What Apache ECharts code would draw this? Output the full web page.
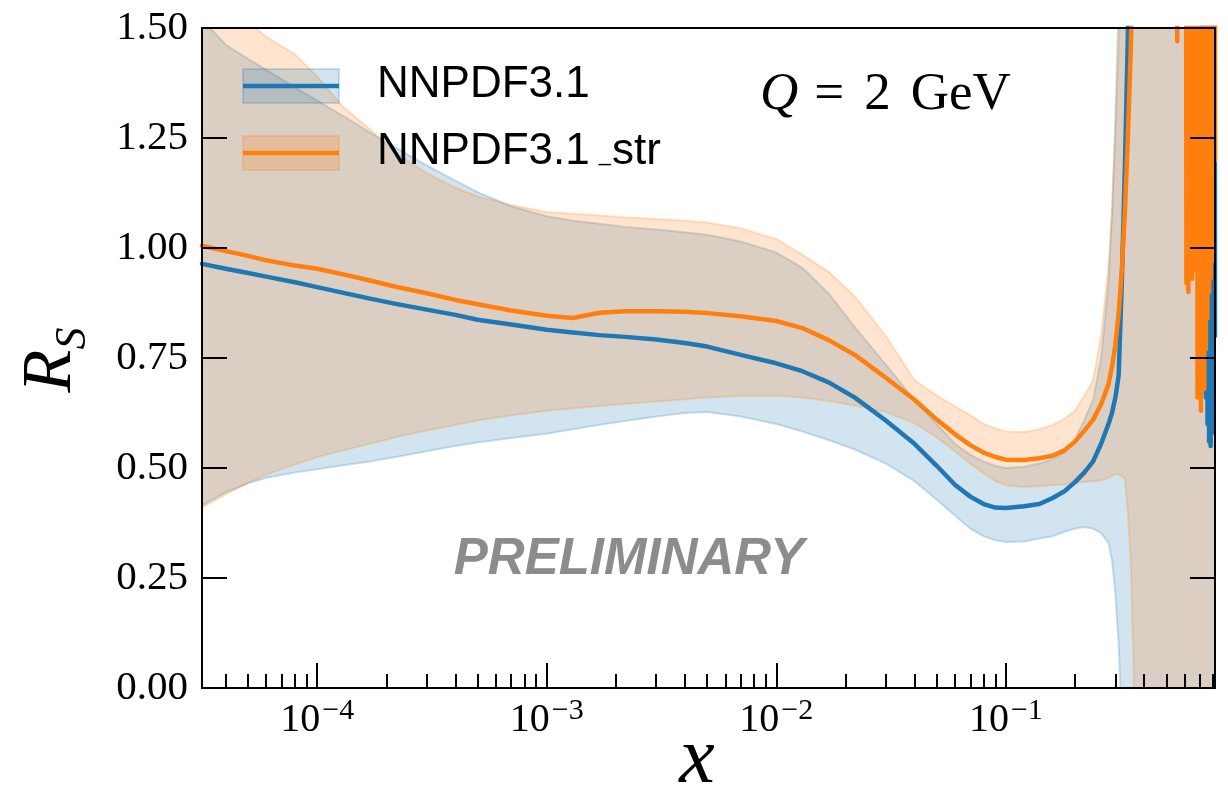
<!DOCTYPE html>
<html>
<head>
<meta charset="utf-8">
<title>R_S at Q = 2 GeV</title>
<script src="https://cdn.jsdelivr.net/npm/echarts@6.0.0/dist/echarts.min.js"></script>
<style>
  html, body { margin: 0; padding: 0; background: #ffffff; }
  #chart { width: 1228px; height: 789px; }
</style>
</head>
<body>
<div id="chart"></div>
<script>
// ---- data -------------------------------------------------------------
// sampling points in x shared by central values and bands
const xMain = [3.15e-5, 4e-5, 5e-5, 6e-5, 8e-5, 1e-4, 1.3e-4, 1.7e-4, 2.2e-4, 3e-4,
               4e-4, 5e-4, 7e-4, 1e-3, 1.3e-3, 1.7e-3, 2.2e-3, 3e-3, 4e-3, 5e-3,
               7e-3, 1e-2, 1.3e-2, 1.7e-2, 2.2e-2, 3e-2, 4e-2, 5e-2, 6e-2, 7e-2,
               8e-2, 9e-2, 0.1, 0.12, 0.14, 0.16, 0.18, 0.2, 0.22, 0.24,
               0.26, 0.28, 0.29, 0.30, 0.31, 0.32, 0.33, 0.34, 0.35, 0.36];

// central values
const blueMid = [0.964, 0.953, 0.943, 0.935, 0.922, 0.911, 0.898, 0.885, 0.873, 0.860,
                 0.848, 0.837, 0.826, 0.814, 0.808, 0.802, 0.798, 0.792, 0.784, 0.776,
                 0.757, 0.738, 0.720, 0.694, 0.660, 0.608, 0.555, 0.505, 0.462, 0.435,
                 0.418, 0.410, 0.409, 0.413, 0.418, 0.432, 0.447, 0.468, 0.490, 0.515,
                 0.555, 0.600, 0.625, 0.660, 0.710, 0.920, 1.180, 1.480, 1.900, 2.500];
const orangeMid = [1.005, 0.993, 0.982, 0.972, 0.960, 0.953, 0.940, 0.926, 0.912, 0.897,
                   0.882, 0.872, 0.858, 0.846, 0.841, 0.853, 0.856, 0.856, 0.855, 0.852,
                   0.845, 0.834, 0.818, 0.790, 0.757, 0.705, 0.655, 0.610, 0.577, 0.552,
                   0.535, 0.525, 0.519, 0.518, 0.522, 0.528, 0.540, 0.560, 0.585, 0.610,
                   0.645, 0.690, 0.730, 0.780, 0.850, 0.950, 1.080, 1.250, 1.450, 1.700];

// large-x continuation of the central values (unstable region)
const xTail = [0.38, 0.42, 0.5, 0.545, 0.552, 0.558, 0.565, 0.572, 0.58, 0.59,
               0.6, 0.606, 0.612, 0.618, 0.624, 0.63, 0.636, 0.642, 0.648, 0.654,
               0.66, 0.666, 0.672, 0.678, 0.684, 0.69, 0.696, 0.702, 0.708, 0.714,
               0.72, 0.726, 0.732, 0.738, 0.744, 0.75, 0.756, 0.762, 0.768, 0.774,
               0.78, 0.786, 0.792, 0.798, 0.804, 0.81, 0.815];
const blueTail = [3, 3, 3, 3, 3, 3, 3, 3, 3, 3,
                  3, 3, 3, 3, 3, 3, 3, 3, 3, 3,
                  3, 3, 3, 3, 3, 3, 3, 3, 3, 3,
                  3, 3, 0.75, 3, 0.66, 3, 0.60, 3, 0.56, 3,
                  0.55, 3, 0.58, 3, 0.64, 3, 0.80];
const orangeTail = [3, 3, 3, 3, 3, 1.47, 1.47, 3, 3, 3,
                    3, 3, 0.92, 3, 0.90, 3, 0.93, 3, 0.93, 3,
                    0.95, 3, 1.04, 3, 0.66, 3, 0.72, 3, 0.63, 3,
                    0.70, 3, 0.68, 3, 0.77, 3, 0.84, 3, 0.90, 3,
                    0.93, 3, 0.97, 3, 1.05, 3, 1.20];

// uncertainty bands: xMain followed by these points
const xBandEnd = [0.38, 0.5, 0.65, 0.815];
const blueLo = [0.415, 0.445, 0.465, 0.478, 0.490, 0.497, 0.506, 0.515, 0.525, 0.538,
                0.550, 0.558, 0.568, 0.578, 0.588, 0.598, 0.607, 0.617, 0.625, 0.627,
                0.617, 0.600, 0.583, 0.563, 0.542, 0.510, 0.470, 0.428, 0.392, 0.362,
                0.345, 0.336, 0.332, 0.333, 0.340, 0.345, 0.355, 0.362, 0.366, 0.362,
                0.352, 0.330, 0.290, 0.215, 0.100, -0.080, -0.600, -2, -2, -2,
                -2, -2, -2, -2];
const blueHi = [1.520, 1.462, 1.430, 1.405, 1.365, 1.335, 1.300, 1.262, 1.228, 1.188,
                1.153, 1.127, 1.095, 1.072, 1.062, 1.055, 1.048, 1.042, 1.036, 1.030,
                1.015, 0.990, 0.955, 0.895, 0.820, 0.735, 0.655, 0.600, 0.555, 0.530,
                0.515, 0.505, 0.500, 0.503, 0.510, 0.520, 0.535, 0.565, 0.610, 0.655,
                0.750, 0.920, 1.080, 1.300, 1.550, 1.900, 2.400, 3, 3, 3,
                3, 3, 3, 3];
const orangeLo = [0.410, 0.440, 0.466, 0.485, 0.508, 0.525, 0.540, 0.555, 0.570, 0.585,
                  0.598, 0.608, 0.620, 0.630, 0.636, 0.641, 0.646, 0.651, 0.656, 0.660,
                  0.664, 0.664, 0.660, 0.652, 0.642, 0.627, 0.602, 0.570, 0.538, 0.510,
                  0.488, 0.470, 0.461, 0.457, 0.459, 0.461, 0.463, 0.466, 0.468, 0.470,
                  0.472, 0.477, 0.482, 0.485, 0.485, 0.481, 0.477, 0.400, 0.290, 0.060,
                  -1, -2, -2, -2];
const orangeHi = [1.620, 1.560, 1.515, 1.480, 1.440, 1.390, 1.320, 1.270, 1.215, 1.170,
                  1.137, 1.117, 1.098, 1.082, 1.078, 1.074, 1.070, 1.066, 1.062, 1.058,
                  1.045, 1.020, 0.985, 0.945, 0.890, 0.800, 0.700, 0.665, 0.640, 0.620,
                  0.600, 0.590, 0.583, 0.582, 0.588, 0.598, 0.612, 0.630, 0.665, 0.700,
                  0.800, 0.960, 1.080, 1.250, 1.450, 1.700, 2.100, 2.600, 3, 3,
                  3, 3, 3, 3];

const seriesNames = ['NNPDF3.1', 'NNPDF3.1_str'];
const xTickExps = [-4, -3, -2, -1];
const xRange = [3.15e-5, 0.815];
const yRange = [0, 1.5];
const yStep = 0.25;

// ---- styling ----------------------------------------------------------
const SERIF = "'Liberation Serif', 'DejaVu Serif', serif";
const SANS = "'Liberation Sans', Arial, sans-serif";
const BLUE = '31,119,180';
const ORANGE = '255,127,14';
const lg = Math.log10;

// minor ticks at k * 10^n inside the visible range
const minorTicks = [];
for (let e = -5; e <= -1; e++) {
  for (let k = 2; k <= 9; k++) {
    const v = lg(k * Math.pow(10, e));
    if (v > lg(xRange[0]) && v < lg(xRange[1])) minorTicks.push(v);
  }
}

function bandSeries(name, xs, lo, hi, rgb, z) {
  const pts = xs.map((x, i) => [lg(x), lo[i], hi[i]]);
  return {
    type: 'custom',
    name: name,
    z: z,
    clip: true,
    silent: true,
    xAxisIndex: 0,
    yAxisIndex: 0,
    data: pts,
    encode: { x: 0, y: [1, 2] },
    renderItem: function (params, api) {
      if (params.dataIndex !== 0) return null;
      const upper = pts.map(p => api.coord([p[0], p[2]]));
      const lower = pts.map(p => api.coord([p[0], p[1]])).reverse();
      return {
        type: 'group',
        children: [
          { type: 'polygon', shape: { points: upper.concat(lower) },
            style: { fill: 'rgba(' + rgb + ',0.2)', stroke: null } },
          { type: 'polyline', shape: { points: upper },
            style: { fill: null, stroke: 'rgba(' + rgb + ',0.22)', lineWidth: 2 } },
          { type: 'polyline', shape: { points: lower },
            style: { fill: null, stroke: 'rgba(' + rgb + ',0.22)', lineWidth: 2 } }
        ]
      };
    }
  };
}

function lineSeries(name, xs, ys, rgb, z) {
  return {
    type: 'line',
    name: name,
    z: z,
    xAxisIndex: 0,
    yAxisIndex: 0,
    data: xs.map((x, i) => [lg(x), ys[i]]),
    showSymbol: false,
    symbol: 'none',
    smooth: false,
    clip: true,
    silent: true,
    lineStyle: { color: 'rgb(' + rgb + ')', width: 4.5, join: 'round', cap: 'round' }
  };
}

const axisLineStyle = { color: '#000', width: 2 };

const option = {
  animation: false,
  backgroundColor: '#ffffff',
  grid: { left: 202, right: 13, top: 28, bottom: 101, containLabel: false, outerBoundsMode: 'none' },
  xAxis: [
    { // major ticks + labels
      type: 'value', position: 'bottom', z: 10,
      min: lg(xRange[0]), max: lg(xRange[1]),
      axisLine: { show: true, onZero: false, lineStyle: axisLineStyle },
      axisTick: { show: true, inside: true, length: 25, customValues: xTickExps,
                  lineStyle: { color: '#000', width: 2 } },
      axisLabel: {
        show: true, margin: 8, customValues: xTickExps,
        formatter: v => '{b|10}{e|\u2212' + Math.abs(Math.round(v)) + '}',
        rich: {
          b: { fontFamily: SERIF, fontSize: 40, color: '#000', lineHeight: 44, verticalAlign: 'bottom' },
          e: { fontFamily: SERIF, fontSize: 30, color: '#000', lineHeight: 28, verticalAlign: 'top',
               padding: [0, 0, 0, 2] }
        }
      },
      splitLine: { show: false }
    },
    { // minor ticks
      type: 'value', position: 'bottom', z: 10,
      min: lg(xRange[0]), max: lg(xRange[1]),
      axisLine: { show: false, onZero: false },
      axisTick: { show: true, inside: true, length: 14, customValues: minorTicks,
                  lineStyle: { color: '#000', width: 2 } },
      axisLabel: { show: false },
      splitLine: { show: false }
    },
    { // top frame
      type: 'value', position: 'top', z: 10,
      min: lg(xRange[0]), max: lg(xRange[1]),
      axisLine: { show: true, onZero: false, lineStyle: axisLineStyle },
      axisTick: { show: false }, axisLabel: { show: false }, splitLine: { show: false }
    }
  ],
  yAxis: [
    {
      type: 'value', position: 'left', z: 10,
      min: yRange[0], max: yRange[1], interval: yStep,
      axisLine: { show: true, onZero: false, lineStyle: axisLineStyle },
      axisTick: { show: true, inside: true, length: 25, lineStyle: { color: '#000', width: 2 } },
      axisLabel: { show: true, margin: 14, showMinLabel: true, showMaxLabel: true,
                   formatter: v => v.toFixed(2),
                   fontFamily: SERIF, fontSize: 41, color: '#000' },
      splitLine: { show: false }
    },
    {
      type: 'value', position: 'right', z: 10,
      min: yRange[0], max: yRange[1], interval: yStep,
      axisLine: { show: true, onZero: false, lineStyle: axisLineStyle },
      axisTick: { show: true, inside: true, length: 25, lineStyle: { color: '#000', width: 2 } },
      axisLabel: { show: false },
      splitLine: { show: false }
    }
  ],
  series: [
    bandSeries(seriesNames[0] + ' band', xMain.concat(xBandEnd), blueLo, blueHi, BLUE, 1),
    bandSeries(seriesNames[1] + ' band', xMain.concat(xBandEnd), orangeLo, orangeHi, ORANGE, 2),
    lineSeries(seriesNames[0], xMain.concat(xTail), blueMid.concat(blueTail), BLUE, 3),
    lineSeries(seriesNames[1], xMain.concat(xTail), orangeMid.concat(orangeTail), ORANGE, 4)
  ],
  graphic: [
    // legend
    { type: 'rect', z: 100, shape: { x: 243, y: 69, width: 96, height: 34 },
      style: { fill: 'rgba(' + BLUE + ',0.2)', stroke: 'rgba(' + BLUE + ',0.22)', lineWidth: 2 } },
    { type: 'line', z: 101, shape: { x1: 243, y1: 86, x2: 339, y2: 86 },
      style: { stroke: 'rgb(' + BLUE + ')', lineWidth: 4.5 } },
    { type: 'text', z: 101, x: 377, y: 85,
      style: { text: seriesNames[0], fontFamily: SANS, fontSize: 44, fill: '#000',
               align: 'left', verticalAlign: 'middle' } },
    { type: 'rect', z: 100, shape: { x: 243, y: 136, width: 96, height: 34 },
      style: { fill: 'rgba(' + ORANGE + ',0.2)', stroke: 'rgba(' + ORANGE + ',0.22)', lineWidth: 2 } },
    { type: 'line', z: 101, shape: { x1: 243, y1: 153, x2: 339, y2: 153 },
      style: { stroke: 'rgb(' + ORANGE + ')', lineWidth: 4.5 } },
    { type: 'text', z: 101, x: 377, y: 152,
      style: {
        text: '{a|NNPDF3.1}{u|_}{a|str}',
        align: 'left', verticalAlign: 'middle',
        rich: {
          a: { fontFamily: SANS, fontSize: 44, color: '#000', verticalAlign: 'bottom' },
          u: { fontFamily: SANS, fontSize: 22, color: '#000', verticalAlign: 'bottom',
               padding: [0, 1, 8, 9] }
        }
      } },
    // scale annotation
    { type: 'text', z: 101, x: 760, y: 95,
      style: {
        text: '{q|Q}{e|=}{t|2}{g|GeV}',
        align: 'left', verticalAlign: 'middle',
        rich: {
          q: { fontFamily: SERIF, fontSize: 53, fontStyle: 'italic', color: '#000' },
          e: { fontFamily: SERIF, fontSize: 53, color: '#000', padding: [0, 0, 0, 16] },
          t: { fontFamily: SERIF, fontSize: 53, color: '#000', padding: [0, 0, 0, 20] },
          g: { fontFamily: SERIF, fontSize: 53, color: '#000', padding: [0, 0, 0, 20] }
        }
      } },
    // watermark
    { type: 'text', z: 101, x: 629, y: 560,
      style: { text: 'PRELIMINARY', fontFamily: SANS, fontSize: 51, fontWeight: 'bold',
               fontStyle: 'italic', fill: '#8c8c8c', align: 'center', verticalAlign: 'middle' } },
    // axis titles
    { type: 'text', z: 101, x: 56, y: 360, rotation: Math.PI / 2,
      style: {
        text: '{r|R}{s|S}',
        align: 'center', verticalAlign: 'middle',
        rich: {
          r: { fontFamily: SERIF, fontSize: 70, fontStyle: 'italic', color: '#000', verticalAlign: 'bottom',
               padding: [0, 0, 8, 0] },
          s: { fontFamily: SERIF, fontSize: 44, fontStyle: 'italic', color: '#000', verticalAlign: 'bottom' }
        }
      } },
    { type: 'text', z: 101, x: 697, y: 761,
      style: { text: 'x', fontFamily: SERIF, fontSize: 80, fontStyle: 'italic', fill: '#000',
               align: 'center', verticalAlign: 'middle' } }
  ]
};

const chart = echarts.init(document.getElementById('chart'), null, { renderer: 'canvas' });
chart.setOption(option);
</script>
</body>
</html>
